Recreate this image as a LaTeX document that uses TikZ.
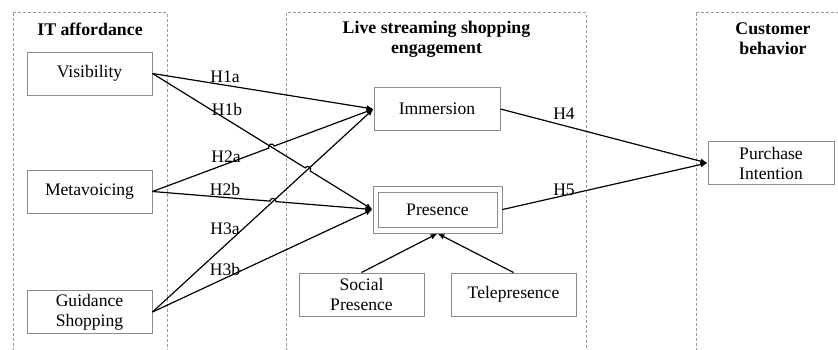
\documentclass[tikz,border=0pt]{standalone}
\usepackage{fontspec}
\setmainfont{Liberation Serif}
\usetikzlibrary{arrows.meta,calc,intersections}
\definecolor{boxgray}{HTML}{8C8C8C}
\definecolor{panelgray}{HTML}{9A9A9A}
\begin{document}
\begin{tikzpicture}[x=0.5pt,y=-0.5pt,
  font=\fontsize{8.8}{10}\selectfont,
  panel/.style={draw=panelgray,line width=0.35pt,dash pattern=on 1.5pt off 1pt},
  title/.style={font=\fontsize{8.9}{10}\selectfont\bfseries,align=center,inner sep=0pt},
  box/.style={draw=boxgray,line width=0.5pt,minimum width=62.5pt,minimum height=21.5pt,
    inner sep=0pt,align=center},
  conn/.style={line width=0.6pt,-{Latex[length=3.5pt,width=2.8pt]}},
  plain/.style={line width=0.6pt},
  hyp/.style={inner sep=0pt},
  hop/.style={bend left=90,looseness=1.7}]
\useasboundingbox (0,0) rectangle (838,349);
\clip (0,0) rectangle (838,349);

% group panels
\draw[panel] (13,12.5) rectangle (167,360);
\draw[panel] (286,12.5) rectangle (586,360);
\draw[panel] (696,12.5) rectangle (850,360);
\node[title] (t1) at (90,29) {IT affordance};
\node[title] (t2) at (436.5,39) {Live streaming shopping\\engagement};
\node[title] (t3) at (773,39) {Customer\\behavior};

% constructs
\node[box] (vis) at (89.5,73.5) {Visibility};
\node[box] (meta) at (89.5,191.5) {Metavoicing};
\node[box] (guid) at (89.5,312) {Guidance\\Shopping};
\node[box,minimum width=63pt] (imm) at (437,109) {Immersion};
\node[draw=boxgray,line width=0.5pt,minimum width=64.5pt,minimum height=23.5pt,inner sep=0pt] (presO) at (437.5,209.5) {};
\node[box,minimum width=59.5pt,minimum height=17.5pt] (pres) at (437.5,209.5) {Presence};
\node[box] (soc) at (361.5,294.5) {Social\\Presence};
\node[box] (tele) at (513.5,294.5) {Telepresence};
\node[box,minimum width=63pt] (pur) at (771,163) {Purchase\\Intention};

% crossing points of the hypothesis paths
\path[name path=p1b] (vis.east) -- (presO.west);
\path[name path=p2a] (meta.east) -- (imm.west);
\path[name path=p2b] (meta.east) -- (presO.west);
\path[name path=p3a] (guid.east) -- (imm.west);
\path[name intersections={of=p1b and p2a,by=x1}];
\path[name intersections={of=p1b and p3a,by=x2}];
\path[name intersections={of=p2b and p3a,by=x3}];

% hypotheses
\draw[conn] (vis.east) -- (imm.west);
\draw[conn] (vis.east) -- ($(x2)!1.5pt!(vis.east)$) to[hop] ($(x2)!1.5pt!(presO.west)$) -- (presO.west);
\draw[conn] (meta.east) -- ($(x1)!1.5pt!(meta.east)$) to[hop] ($(x1)!1.5pt!(imm.west)$) -- (imm.west);
\draw[conn] (meta.east) -- ($(x3)!1.5pt!(meta.east)$) to[hop] ($(x3)!1.5pt!(presO.west)$) -- (presO.west);
\draw[conn] (guid.east) -- (imm.west);
\draw[conn] (guid.east) -- (presO.west);
\draw[conn] (imm.east) -- (pur.west);
\draw[conn] (presO.east) -- (pur.west);
\draw[conn] (soc.north) -- (presO.south);
\draw[conn] (tele.north) -- (presO.south);

% hypothesis labels
\node[hyp] (l1a) at (225,77) {H1a};
\node[hyp] (l1b) at (227,109) {H1b};
\node[hyp] (l2a) at (226,157) {H2a};
\node[hyp] (l2b) at (225,189) {H2b};
\node[hyp] (l3a) at (225,229) {H3a};
\node[hyp] (l3b) at (225,269) {H3b};
\node[hyp] (l4) at (564,114) {H4};
\node[hyp] (l5) at (564,190) {H5};
\end{tikzpicture}
\end{document}
